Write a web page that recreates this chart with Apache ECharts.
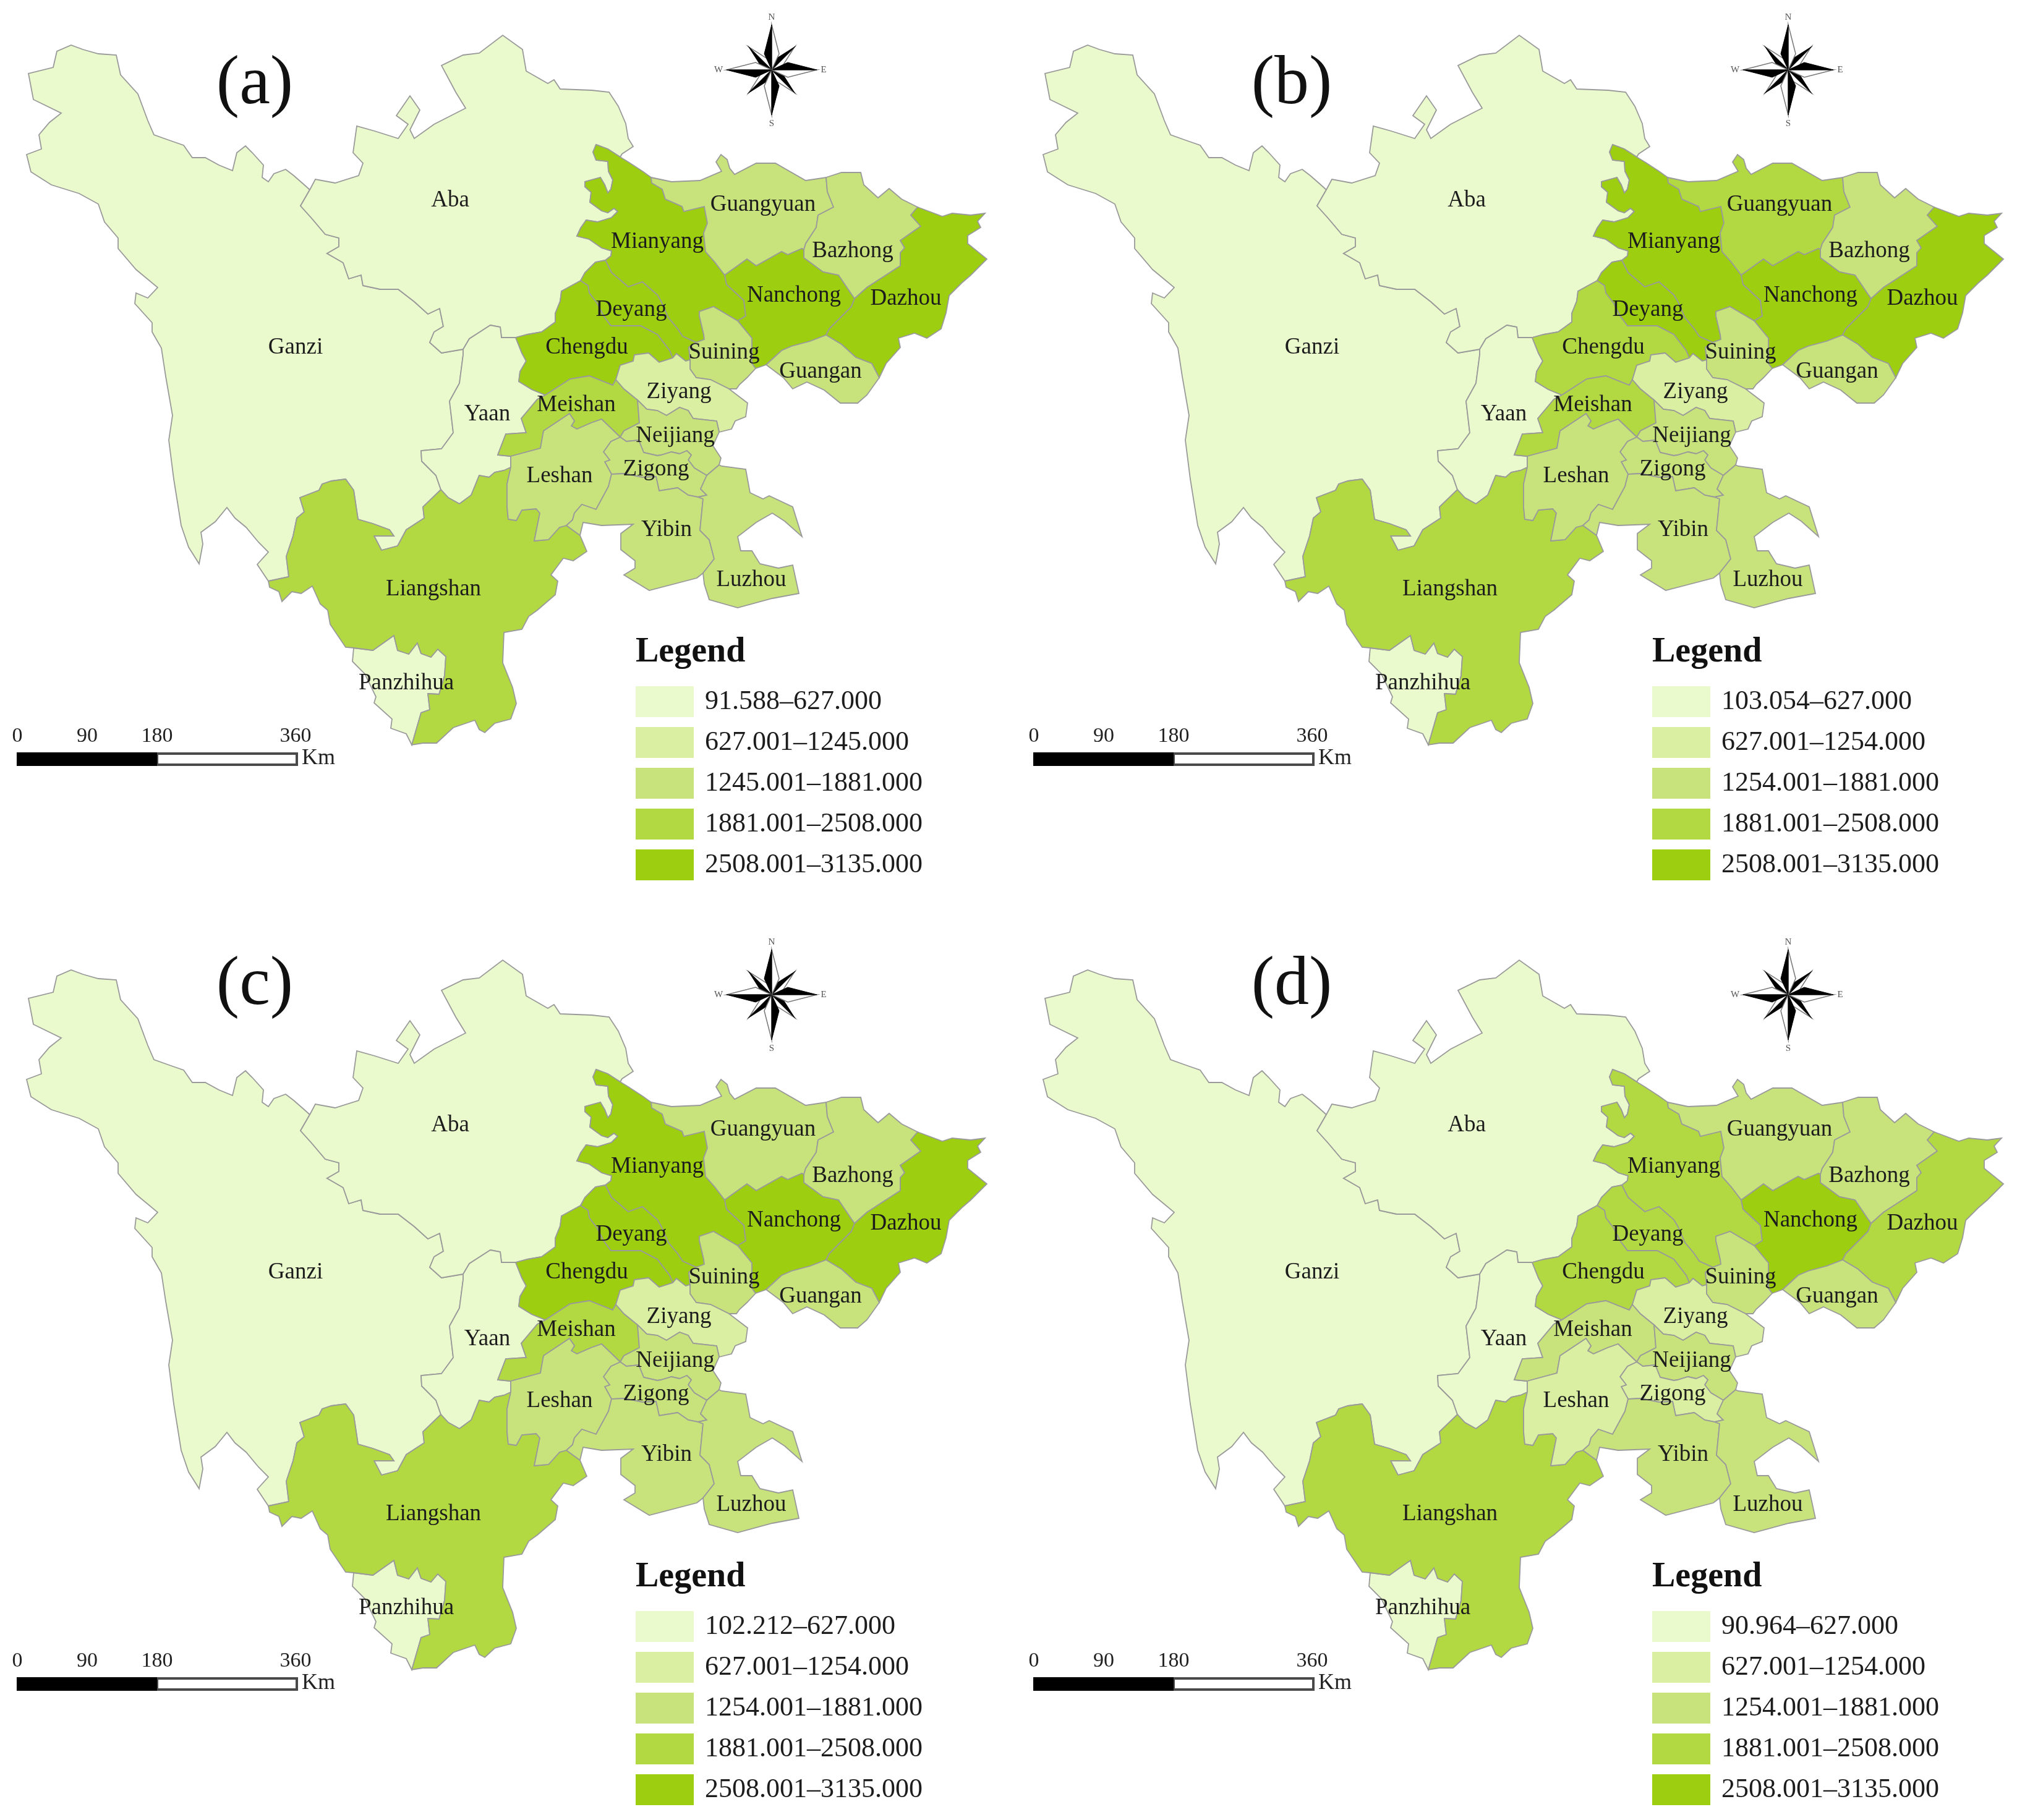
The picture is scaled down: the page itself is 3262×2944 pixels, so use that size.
<!DOCTYPE html>
<html lang="en">
<head>
    <meta charset="UTF-8">
    <title>Sichuan maps</title>
    <script src="https://cdn.jsdelivr.net/npm/echarts@6/dist/echarts.min.js"></script>
    <style type="text/css">
        html, body { margin: 0; padding: 0; background: #fff; }
        #chart { width: 3262px; height: 2944px; }
    </style>
</head>
<body>
<div id="chart"></div>
<script type="text/javascript">
    // region order used by every value list below
    var regionNames = ['Ganzi','Aba','Yaan','Panzhihua','Liangshan','Mianyang','Deyang','Chengdu','Meishan','Guangyuan','Bazhong',
        'Nanchong','Dazhou','Guangan','Suining','Ziyang','Neijiang','Zigong','Leshan','Yibin','Luzhou'];

    // values estimated from the class each region falls in
    var valuesA = [320,300,450,380,2100,2800,2900,3000,2000,1500,1400,2700,2750,1450,1400,900,1500,1350,1400,1500,1450];
    var valuesB = [330,310,460,400,2150,2750,2600,2300,2000,2100,1500,2900,2750,1500,1450,950,1500,1350,1450,1550,1500];
    var valuesC = [325,305,455,390,2200,2850,2800,2900,2050,1500,1450,2750,2700,1500,1450,950,1500,1350,1450,1500,1450];
    var valuesD = [310,295,440,370,2100,2300,2200,2300,1500,1600,1500,2600,2100,1500,1500,1000,1400,1000,900,1400,1350];

    var breaksA = [91.588,627,1245,1881,2508,3135];
    var breaksB = [103.054,627,1254,1881,2508,3135];
    var breaksC = [102.212,627,1254,1881,2508,3135];
    var breaksD = [90.964,627,1254,1881,2508,3135];

    var classColors = ['#EAFACD','#DAEFA2','#C8E37C','#B3D942','#9DCE10'];
    var panelNames = ['(a)','(b)','(c)','(d)'];
    var scaleTicks = ['0','90','180','360'];

    // shared boundary lines of the base map
    var ganziOuter = [[501,307],[491,298],[475,284],[462,274],[443,281],[434,294],[424,287],[426,267],[408,247],[397,236],[383,247],[376,276],[354,267],[332,255],[311,255],[297,235],[274,227],[249,218],[239,195],[223,152],[195,121],[188,89],[159,87],[134,80],[115,73],[92,83],[86,109],[46,119],[54,161],[99,183],[80,198],[63,218],[67,241],[43,250],[50,278],[83,299],[128,313],[159,330],[169,359],[191,385],[191,402],[220,436],[255,465],[239,482],[220,474],[218,491],[246,522],[246,537],[261,563],[268,609],[279,672],[273,712],[281,775],[293,850],[305,885],[322,912],[328,880],[325,861],[348,844],[367,821],[380,838],[398,853],[418,877],[434,893],[416,913],[434,940]];
    var ganziLiang = [[434,940],[467,933],[463,900],[474,867],[480,838],[492,828],[485,805],[516,793],[521,783],[536,778],[559,775],[572,793],[579,840],[603,847],[630,857],[637,867],[605,867],[617,890],[643,883],[657,857],[686,838],[684,820],[713,792]];
    var ganziYaan = [[713,792],[705,769],[682,746],[681,729],[714,726],[733,700],[727,649],[743,620],[749,574],[749,565]];
    var ganziAba = [[749,565],[714,571],[695,554],[702,537],[717,528],[711,499],[692,508],[670,488],[644,468],[615,468],[587,462],[584,445],[564,451],[555,425],[529,410],[548,399],[548,385],[526,379],[504,353],[486,333],[501,307]];
    var abaOuter = [[501,307],[510,290],[542,296],[580,284],[587,264],[571,247],[577,204],[606,212],[644,224],[660,201],[641,187],[663,155],[679,178],[663,210],[670,224],[702,201],[753,175],[737,149],[714,106],[749,89],[775,86],[813,57],[845,80],[851,115],[886,135],[896,129],[906,144],[957,146],[985,149],[1000,172],[1012,200],[1016,224],[1024,237],[1006,249],[1003,254]];
    var abaMian = [[1003,254],[983,241],[964,234],[959,246],[964,259],[983,261],[984,277],[991,291],[988,306],[983,312],[978,299],[971,287],[946,294],[946,302],[956,311],[954,327],[973,341],[983,344],[993,337],[999,342],[989,352],[966,359],[948,356],[939,369],[933,382],[953,387],[973,401],[989,406],[988,414],[979,421]];
    var abaDeyang = [[979,421],[963,424],[946,441],[939,454]];
    var abaCheng = [[939,454],[908,471],[906,487],[898,507],[898,521],[876,537],[853,541],[834,546]];
    var abaYaan = [[834,546],[811,546],[809,529],[793,526],[776,537],[759,548],[749,565]];
    var chengYaan = [[834,546],[844,571],[851,584],[841,601],[839,617],[860,630],[882,639]];
    var meiYaan = [[882,639],[869,646],[843,677],[851,700],[818,702],[805,736],[826,738]];
    var lesYaan = [[826,738],[826,756]];
    var yaanLiang = [[713,792],[725,805],[743,815],[762,801],[775,769],[791,772],[800,764],[815,761],[826,756]];
    var chengDeyang = [[939,454],[951,462],[953,474],[966,491],[976,511],[988,527],[1006,527],[1036,527],[1063,541],[1083,567],[1088,579]];
    var chengZiyang = [[1088,579],[1066,586],[1049,571],[1026,574],[1024,584],[1003,591],[996,614]];
    var chengMei = [[996,614],[991,623],[953,608],[922,613],[882,639]];
    var deyMian = [[979,421],[989,441],[1016,464],[1039,456],[1063,477],[1069,487],[1081,514],[1096,532],[1104,544],[1126,554]];
    var deySui = [[1126,554],[1114,562],[1116,582]];
    var deyZi = [[1116,582],[1109,584],[1094,572],[1088,579]];
    var mianOuter = [[1003,254],[1016,262],[1039,277],[1053,287]];
    var mianGy = [[1053,287],[1054,296],[1071,306],[1076,322],[1103,334],[1106,342],[1139,334],[1144,361],[1138,377],[1141,407],[1156,424],[1172,445]];
    var mianNan = [[1172,445],[1175,460],[1203,486],[1206,511],[1193,519]];
    var mianSui = [[1193,519],[1154,496],[1131,504],[1131,511],[1138,541],[1139,549],[1126,554]];
    var gyOuter = [[1053,287],[1086,294],[1132,292],[1167,277],[1158,262],[1166,250],[1176,258],[1180,272],[1188,282],[1223,264],[1254,264],[1303,292],[1336,287]];
    var gyBaz = [[1336,287],[1338,310],[1348,335],[1323,348],[1320,368],[1303,394],[1300,404]];
    var gyNan = [[1300,404],[1297,402],[1274,412],[1264,407],[1223,430],[1208,419],[1172,445]];
    var bazOuter = [[1336,287],[1361,279],[1392,279],[1397,299],[1420,320],[1438,305],[1458,322],[1484,335]];
    var bazDaz = [[1484,335],[1473,348],[1489,366],[1456,389],[1463,401],[1456,409],[1456,430],[1402,465],[1382,483]];
    var bazNan = [[1382,483],[1377,476],[1356,445],[1331,440],[1300,417],[1300,404]];
    var nanDaz = [[1382,483],[1377,496],[1341,532],[1336,542]];
    var nanGa = [[1336,542],[1310,552],[1280,560],[1264,567],[1239,590]];
    var nanThin = [[1239,590],[1222,596],[1216,588]];
    var nanSui = [[1216,588],[1216,547],[1193,519]];
    var dazOuter = [[1484,335],[1524,350],[1540,345],[1570,348],[1593,345],[1581,358],[1586,368],[1565,381],[1565,394],[1596,419],[1570,445],[1555,458],[1535,478],[1530,506],[1522,532],[1499,547],[1479,539],[1453,547],[1456,562],[1433,588],[1422,611]];
    var dazGa = [[1422,611],[1410,588],[1384,578],[1361,557],[1336,542]];
    var gaOuter = [[1422,611],[1402,639],[1387,652],[1359,652],[1333,631],[1305,618],[1282,629],[1267,611],[1239,590]];
    var suiOuter = [[1216,588],[1222,596],[1208,611],[1196,622],[1191,629],[1179,629]];
    var ziSui = [[1116,582],[1116,597],[1126,611],[1149,614],[1179,629]];
    var ziOuter = [[1179,629],[1209,652],[1206,674],[1189,681],[1183,694],[1163,699]];
    var ziNei = [[1163,699],[1159,681],[1121,677],[1113,664],[1099,659],[1078,672],[1063,664],[1046,662],[1031,647]];
    var ziMei = [[1031,647],[1009,629],[996,614]];
    var meiNei = [[1031,647],[1034,684],[1009,697],[1003,707]];
    var meiLes = [[1003,707],[973,678],[956,684],[933,694],[924,689],[929,681],[921,669],[879,697],[874,725],[826,738]];
    var neiOuter = [[1163,699],[1153,721],[1166,741],[1163,752]];
    var neiLu = [[1163,752],[1143,769]];
    var neiZi = [[1143,769],[1123,757],[1113,744],[1118,736],[1111,729],[1099,734],[1086,731],[1069,736],[1063,737],[1041,732],[1033,712],[1013,714],[1003,707]];
    var ziLu = [[1143,769],[1133,791],[1143,801],[1129,804]];
    var ziYi = [[1129,804],[1113,801],[1096,789],[1066,794],[1061,771],[1039,772],[1009,766],[989,767]];
    var ziLes = [[989,767],[978,747],[986,744],[976,731],[988,714],[1003,707]];
    var lesYi = [[989,767],[984,787],[964,824],[941,816],[929,830],[926,841],[916,850]];
    var lesLiang = [[916,850],[905,853],[887,873],[864,875],[873,830],[867,823],[844,825],[835,842],[822,840],[820,820],[820,783],[826,756]];
    var yiLu = [[1129,804],[1137,807],[1132,858],[1147,873],[1155,904],[1137,927]];
    var yiOuter = [[1137,927],[1127,935],[1050,955],[1009,930],[1027,919],[1027,907],[1004,889],[1004,863],[1024,848],[973,850],[943,845],[938,866]];
    var yiLiang = [[938,866],[916,850]];
    var luOuter = [[1163,752],[1167,754],[1206,759],[1213,797],[1234,807],[1244,802],[1282,820],[1297,868],[1269,843],[1249,830],[1223,845],[1193,868],[1198,891],[1216,891],[1229,912],[1259,919],[1282,914],[1292,960],[1249,968],[1193,983],[1147,970],[1139,945],[1137,927]];
    var liangOuter = [[434,940],[436,950],[451,957],[456,973],[472,957],[487,960],[505,948],[518,977],[530,987],[534,1010],[559,1047],[572,1048]];
    var liangPan = [[572,1048],[603,1052],[637,1028],[643,1052],[661,1058],[675,1040],[681,1057],[697,1063],[708,1050],[721,1062],[719,1093],[710,1123],[692,1122],[695,1148],[681,1153],[666,1205]];
    var panOuter = [[666,1205],[657,1187],[632,1178],[634,1163],[605,1137],[608,1127],[590,1090],[570,1070],[572,1048]];
    var liangSE = [[666,1205],[684,1202],[706,1202],[733,1177],[768,1165],[775,1180],[784,1185],[800,1170],[826,1163],[835,1138],[829,1112],[813,1072],[815,1023],[844,1018],[855,997],[869,987],[898,962],[902,940],[891,930],[911,903],[927,907],[949,892],[938,866]];

    function rev(a){ return a.slice().reverse(); }

    // rings are chained from the shared lines so neighbours always fit
    var regionRings = {
        Ganzi: [ganziOuter,ganziLiang,ganziYaan,ganziAba],
        Aba: [abaOuter,abaMian,abaDeyang,abaCheng,abaYaan,ganziAba],
        Yaan: [rev(abaYaan),chengYaan,meiYaan,lesYaan,rev(yaanLiang),ganziYaan],
        Panzhihua: [liangPan,panOuter],
        Liangshan: [liangOuter,liangPan,liangSE,yiLiang,lesLiang,rev(yaanLiang),rev(ganziLiang)],
        Mianyang: [mianOuter,mianGy,mianNan,mianSui,rev(deyMian),rev(abaMian)],
        Deyang: [rev(abaDeyang),deyMian,deySui,deyZi,rev(chengDeyang)],
        Chengdu: [rev(abaCheng),chengDeyang,chengZiyang,chengMei,rev(chengYaan)],
        Meishan: [rev(chengMei),rev(ziMei),meiNei,meiLes,rev(meiYaan)],
        Guangyuan: [gyOuter,gyBaz,gyNan,rev(mianGy)],
        Bazhong: [bazOuter,bazDaz,bazNan,rev(gyBaz)],
        Nanchong: [rev(gyNan),rev(bazNan),nanDaz,nanGa,nanThin,nanSui,rev(mianNan)],
        Dazhou: [dazOuter,dazGa,rev(nanDaz),rev(bazDaz)],
        Guangan: [rev(dazGa),gaOuter,rev(nanGa)],
        Suining: [rev(mianSui),rev(nanSui),suiOuter,rev(ziSui),rev(deySui)],
        Ziyang: [rev(chengZiyang),rev(deyZi),ziSui,ziOuter,ziNei,ziMei],
        Neijiang: [rev(meiNei),rev(ziNei),neiOuter,neiLu,neiZi],
        Zigong: [rev(neiZi),ziLu,ziYi,ziLes],
        Leshan: [rev(meiLes),rev(ziLes),lesYi,lesLiang,rev(lesYaan)],
        Yibin: [rev(lesYi),rev(ziYi),yiLu,yiOuter,yiLiang],
        Luzhou: [rev(neiLu),luOuter,rev(yiLu),rev(ziLu)]
    };

    // label anchors
    var labelAt = {
        Ganzi:[478,562],Aba:[728,324],Yaan:[788,670],Panzhihua:[657,1105],Liangshan:[701,953],Mianyang:[1063,391],Deyang:[1021,501],
        Chengdu:[949,562],Meishan:[932,655],Guangyuan:[1234,331],Bazhong:[1379,406],Nanchong:[1284,478],Dazhou:[1465,483],
        Guangan:[1327,601],Suining:[1171,570],Ziyang:[1098,634],Neijiang:[1092,705],Zigong:[1061,759],Leshan:[905,770],Yibin:[1078,857],Luzhou:[1215,938]
    };

    var minX = Infinity, maxX = -Infinity, minY = Infinity, maxY = -Infinity;
    var features = regionNames.map(function (name) {
        var ring = [];
        regionRings[name].forEach(function (part) { ring = ring.concat(part); });
        ring.forEach(function (p) {
            minX = Math.min(minX, p[0]); maxX = Math.max(maxX, p[0]);
            minY = Math.min(minY, p[1]); maxY = Math.max(maxY, p[1]);
        });
        return {
            type: 'Feature',
            properties: {name: name, cp: [labelAt[name][0], -labelAt[name][1]]},
            geometry: {type: 'Polygon', coordinates: [ring.map(function (p) { return [p[0], -p[1]]; })]}
        };
    });
    // one map name per panel, map series on the same name would share one view
    var mapNames = ['sichuanA', 'sichuanB', 'sichuanC', 'sichuanD'];
    mapNames.forEach(function (m) {
        echarts.registerMap(m, {type: 'FeatureCollection', features: features});
    });

    var serif = '"Liberation Serif", serif';
    var panelDx = [0, 1644, 0, 1644];
    var panelDy = [0, 0, 1496, 1496];
    var letterX = [412, 2089, 412, 2089];
    var letterY = [82, 82, 1539, 1539];
    var allValues = [valuesA, valuesB, valuesC, valuesD];
    var allBreaks = [breaksA, breaksB, breaksC, breaksD];

    var series = [], visualMaps = [], titles = [], graphics = [];

    function rangeLabel(lo, hi, first) {
        return (first ? lo : lo + 0.001).toFixed(3) + '\u2013' + hi.toFixed(3);
    }

    function addCompass(cx, cy) {
        // eight points, each half black and half white, turned round the centre
        for (var k = 0; k < 8; k++) {
            var major = k % 2 === 0;
            var tip = major ? 73 : 52, side = major ? 12 : 9, base = major ? 46 : 32;
            var rot = -k * Math.PI / 4;
            graphics.push({type: 'polygon', x: cx, y: cy, rotation: rot, z: major ? 5 : 4,
                shape: {points: [[0,-tip],[side,-base + 20],[0,0]]},
                style: {fill: '#fff', stroke: '#777', lineWidth: 1.5}});
            graphics.push({type: 'polygon', x: cx, y: cy, rotation: rot, z: major ? 5 : 4,
                shape: {points: [[0,-tip],[-side,-base + 20],[0,0]]},
                style: {fill: '#000', stroke: '#000', lineWidth: 1}});
        }
        var letters = [['N',0,-85],['S',0,87],['W',-86,0],['E',84,0]];
        letters.forEach(function (l) {
            graphics.push({type: 'text', x: cx + l[1], y: cy + l[2], z: 6,
                style: {text: l[0], fontFamily: serif, fontSize: 15, fill: '#555', textAlign: 'center', textVerticalAlign: 'middle'}});
        });
    }

    function addScaleBar(dx, dy) {
        graphics.push({type: 'rect', x: dx, y: dy, shape: {x: 254, y: 1219, width: 226, height: 18},
            style: {fill: '#fff', stroke: '#4a4a4a', lineWidth: 4}});
        graphics.push({type: 'rect', x: dx, y: dy, shape: {x: 27, y: 1217, width: 227, height: 22},
            style: {fill: '#000'}});
        var tickX = [28, 141, 254, 478];
        scaleTicks.forEach(function (t, i) {
            graphics.push({type: 'text', x: dx + tickX[i], y: dy + 1191,
                style: {text: t, fontFamily: serif, fontSize: 34, fill: '#222', textAlign: 'center', textVerticalAlign: 'middle'}});
        });
        graphics.push({type: 'text', x: dx + 488, y: dy + 1227,
            style: {text: 'Km', fontFamily: serif, fontSize: 36, fill: '#222', textAlign: 'left', textVerticalAlign: 'middle'}});
    }

    for (var i = 0; i < 4; i++) {
        var dx = panelDx[i], dy = panelDy[i];
        series.push({
            type: 'map', map: mapNames[i], silent: true, roam: false, aspectScale: 1, showLegendSymbol: false,
            left: minX + dx, top: minY + dy, width: maxX - minX, height: maxY - minY,
            itemStyle: {borderColor: '#9a9a9a', borderWidth: 1.8},
            label: {show: true, color: '#1c1c1c', fontFamily: serif, fontSize: 37},
            emphasis: {disabled: true},
            data: regionNames.map(function (n, j) { return {name: n, value: allValues[i][j]}; })
        });
        var br = allBreaks[i];
        visualMaps.push({
            type: 'piecewise', seriesIndex: i, left: 1028 + dx, top: 1110 + dy, orient: 'vertical', inverse: true, align: 'left',
            itemWidth: 94, itemHeight: 50, itemGap: 16, textGap: 18, selectedMode: false, hoverLink: false, padding: 0,
            itemSymbol: 'rect',
            textStyle: {fontFamily: serif, fontSize: 44, color: '#1c1c1c'},
            pieces: classColors.map(function (c, j) {
                return {min: br[j], max: br[j + 1], color: c, label: rangeLabel(br[j], br[j + 1], j === 0)};
            })
        });
        titles.push({text: panelNames[i], left: letterX[i], top: letterY[i], textAlign: 'center', padding: 0,
            textStyle: {fontFamily: serif, fontSize: 112, fontWeight: 'normal', color: '#111'}});
        titles.push({text: 'Legend', left: 1028 + dx, top: 1028 + dy, padding: 0,
            textStyle: {fontFamily: serif, fontSize: 56, fontWeight: 'bold', color: '#111'}});
        addCompass(1248 + dx, 113 + dy);
        addScaleBar(dx, dy);
    }

    var myChart = echarts.init(document.getElementById('chart'));
    myChart.setOption({
        backgroundColor: '#ffffff',
        animation: false,
        title: titles,
        visualMap: visualMaps,
        graphic: graphics,
        series: series
    });
</script>
</body>
</html>
